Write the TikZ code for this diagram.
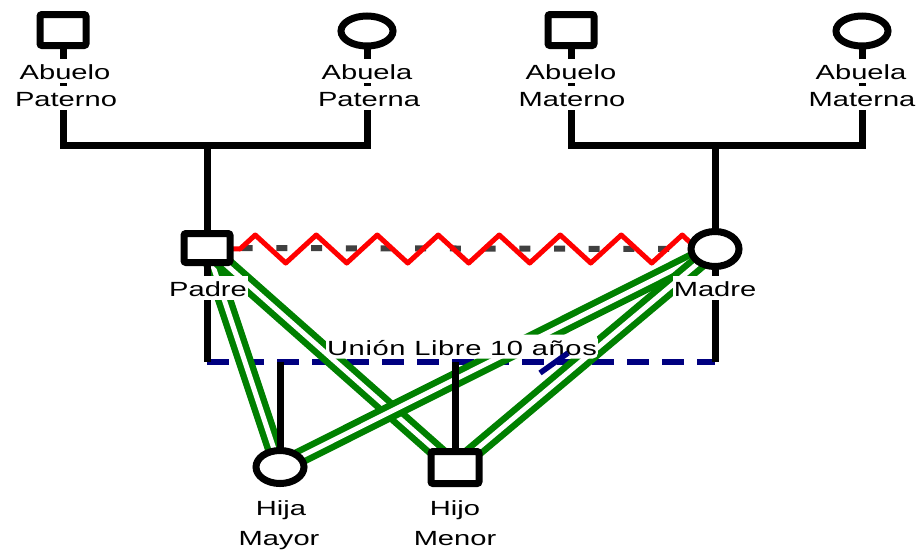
\documentclass[tikz,border=0pt]{standalone}
\usepackage{fontspec}
\setmainfont{Liberation Sans}[FakeStretch=1.42]
\usetikzlibrary{backgrounds,shapes.geometric,calc}
\definecolor{emo}{RGB}{0,128,0}
\definecolor{unionblue}{RGB}{0,0,128}
\definecolor{sepgray}{RGB}{64,64,64}
\definecolor{confred}{RGB}{255,0,0}

\begin{document}
\begin{tikzpicture}[x=1pt,y=-1pt,
  font=\fontsize{20.5}{27}\selectfont,
  male/.style={draw, line width=7pt, fill=white, rectangle, rounded corners=2pt,
    minimum width=46pt, minimum height=31pt, inner sep=0pt},
  female/.style={draw, line width=7pt, fill=white, ellipse,
    minimum width=48pt, minimum height=34pt, inner sep=0pt},
  kin/.style={draw=black, line width=7pt, line join=miter},
  unionline/.style={draw=unionblue, line width=5.5pt, dash pattern=on 22pt off 13pt},
  cut/.style={draw=unionblue, line width=5.5pt},
  bond/.style={draw=emo, line width=6.5pt, double=white, double distance=5pt},
  distant/.style={draw=sepgray, line width=6pt, dash pattern=on 11pt off 23.7pt},
  conflict/.style={draw=confred, line width=5pt, line join=round},
  lbl/.style={fill=white, inner xsep=1pt, inner ysep=1.5pt,
    text height=19pt, text depth=2pt, anchor=base}
]
\useasboundingbox (0,0) rectangle (920,550);

% people
\node[male] (ab1) at (63,30) {};
\node[female, minimum width=52pt, minimum height=30pt] (ab2) at (367,31) {};
\node[male] (ab3) at (571,30) {};
\node[female, minimum width=52pt, minimum height=30pt] (ab4) at (862,31) {};
\node[male, minimum height=29pt] (padre) at (207,248) {};
\node[female, minimum height=35pt] (madre) at (715,249) {};
\node[female, minimum height=33pt] (hija) at (280,467) {};
\node[male, minimum width=48pt, minimum height=32pt] (hijo) at (455,467.5) {};

% junction points
\coordinate (famP) at (207,145);
\coordinate (famM) at (715,145);
\coordinate (marr) at (462,362);
\coordinate (sep1) at (540,373);
\coordinate (sep2) at (568,353);

\begin{scope}[on background layer]
  % couple line
  \draw[unionline] (padre |- marr) -- (madre |- marr);
  % emotional bonds
  \draw[bond] (padre.center) -- (hija.center);
  \draw[bond] (padre.center) -- (hijo.center);
  \draw[bond] (madre.center) -- (hija.center);
  \draw[bond] (madre.center) -- (hijo.center);
  % family lines
  \draw[kin] (ab1.center) |- (famP) -| (ab2.center);
  \draw[kin] (ab3.center) |- (famM) -| (ab4.center);
  \draw[kin] (famP) -- (padre.center);
  \draw[kin] (famM) -- (madre.center);
  \draw[kin] (padre.center) -- (padre |- marr);
  \draw[kin] (madre.center) -- (madre |- marr);
  \draw[kin] (marr -| hija) -- (hija.center);
  \draw[kin] (marr -| hijo) -- (hijo.center);
  % distant and conflictive relation between the parents
  \draw[distant] (padre.center) -- (madre.center);
  \draw[conflict] (padre.center) -- (240,249)
    \foreach \k in {0,...,6} { -- ({255.25+61*\k},235) -- ({285.75+61*\k},263) }
    -- (682.25,235) -- (697,249) -- (madre.center);
\end{scope}

% names
\node[lbl] (l-ab1a) at (65,79) {Abuelo};
\node[lbl] (l-ab1b) at (66,106) {Paterno};
\node[lbl] (l-ab2a) at (367,79) {Abuela};
\node[lbl] (l-ab2b) at (369,106) {Paterna};
\node[lbl] (l-ab3a) at (571,79) {Abuelo};
\node[lbl] (l-ab3b) at (572,106) {Materno};
\node[lbl] (l-ab4a) at (861,79) {Abuela};
\node[lbl] (l-ab4b) at (862,106) {Materna};
\node[lbl] (l-padre) at (208,296) {Padre};
\node[lbl] (l-madre) at (715,296) {Madre};
\node[lbl, rounded corners=5pt, font={\fontsize{20.5}{27}\selectfont\addfontfeature{LetterSpace=3}}]
  (l-union) at (462,355) {Unión Libre 10 años};
\node[lbl] (l-hija1) at (281,515) {Hija};
\node[lbl] (l-hija2) at (279,545) {Mayor};
\node[lbl] (l-hijo1) at (455,515) {Hijo};
\node[lbl] (l-hijo2) at (455,545) {Menor};

% separation mark on the couple line
\draw[cut] (sep1) -- (sep2);
\end{tikzpicture}
\end{document}
